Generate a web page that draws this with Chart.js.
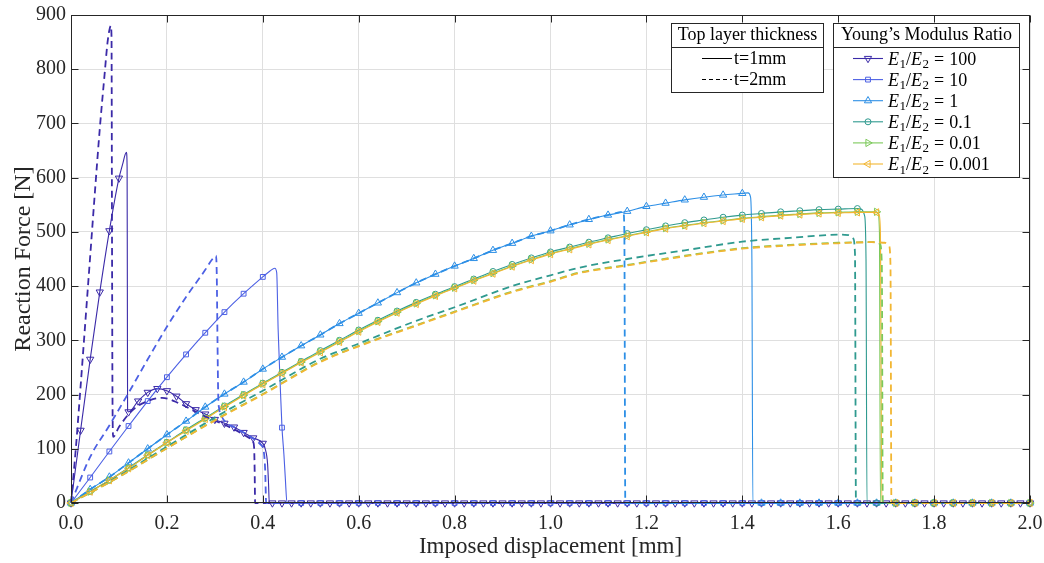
<!DOCTYPE html>
<html><head><meta charset="utf-8">
<script src="https://cdn.jsdelivr.net/npm/chart.js@4.4.1/dist/chart.umd.min.js"></script>
<style>html,body{margin:0;padding:0;background:#fff;}canvas{display:block;}</style>
</head><body>
<canvas id="c" width="1044" height="563"></canvas>
<script>
// ---------- tick labels / categories ----------
const xTickValues = [0,0.2,0.4,0.6,0.8,1.0,1.2,1.4,1.6,1.8,2.0];
const yTickValues = [0,100,200,300,400,500,600,700,800,900];
const ratioLabels = ['100','10','1','0.1','0.01','0.001'];
const thicknessLabels = ['t=1mm','t=2mm'];

// ---------- E1/E2 = 100 ----------
const e100t1X = [0,0.02,0.04,0.06,0.08,0.10,0.108,0.113,0.1155,0.117,0.1175,0.118,0.12,0.14,0.16,0.18,0.20,0.22,0.24,0.26,0.28,0.30,0.32,0.34,0.36,0.38,0.40,0.405,0.41,0.412,0.4135,
 0.42,0.44,0.46,0.48,0.50,0.52,0.54,0.56,0.58,0.60,0.62,0.64,0.66,0.68,0.70,0.72,0.74,0.76,0.78,0.80,0.82,0.84,0.86,0.88,0.90,0.92,0.94,0.96,0.98,1.00,
 1.02,1.04,1.06,1.08,1.10,1.12,1.14,1.16,1.18,1.20,1.22,1.24,1.26,1.28,1.30,1.32,1.34,1.36,1.38,1.40,1.42,1.44,1.46,1.48,1.50,1.52,1.54,1.56,1.58,1.60,
 1.62,1.64,1.66,1.68,1.70,1.72,1.74,1.76,1.78,1.80,1.82,1.84,1.86,1.88,1.90,1.92,1.94,1.96,1.98,2.00];
const e100t1Y = [0,134,265,389,502,599,626,643,647,620,400,170,168,188,204,211,207,197,183,172,164,154,147,140,130,120,110,100,72,35,0,
 0,0,0,0,0,0,0,0,0,0,0,0,0,0,0,0,0,0,0,0,0,0,0,0,0,0,0,0,0,0,
 0,0,0,0,0,0,0,0,0,0,0,0,0,0,0,0,0,0,0,0,0,0,0,0,0,0,0,0,0,0,
 0,0,0,0,0,0,0,0,0,0,0,0,0,0,0,0,0,0,0,0];
const e100t2X = [0,0.01,0.02,0.03,0.04,0.05,0.06,0.07,0.076,0.08,0.083,0.0845,0.0855,0.0865,0.088,0.10,0.128,0.16,0.19,0.225,0.267,0.30,0.34,0.37,0.38,0.382,0.383,0.384,2.0];
const e100t2Y = [0,100,215,335,455,575,690,790,848,872,880,860,500,200,122,140,171,188,194,184,165,152,136,121,112,100,60,0,0];

// ---------- E1/E2 = 10 ----------
const e10t1X = [0,0.04,0.08,0.12,0.16,0.20,0.24,0.28,0.32,0.36,0.40,0.415,0.425,0.429,0.432,0.436,0.44,0.444,0.447,0.4505,
 0.48,0.52,0.56,0.60,0.64,0.68,0.72,0.76,0.80,0.84,0.88,0.92,0.96,1.00,1.04,1.08,1.12,1.16,1.20,1.24,1.28,1.32,1.36,1.40,1.44,1.48,1.52,1.56,1.60,1.64,1.68,1.72,1.76,1.80,1.84,1.88,1.92,1.96,2.00];
const e10t1Y = [0,47,95,142,188,232,274,314,352,386,417,428,433,425,320,225,139,90,45,0,
 0,0,0,0,0,0,0,0,0,0,0,0,0,0,0,0,0,0,0,0,0,0,0,0,0,0,0,0,0,0,0,0,0,0,0,0,0,0,0];
const e10t2X = [0,0.04,0.08,0.12,0.16,0.20,0.24,0.28,0.295,0.3025,0.304,0.3055,0.307,0.309,0.314,0.324,0.34,0.36,0.38,0.395,0.402,0.405,0.407,2.0];
const e10t2Y = [0,85,143,203,265,325,380,430,450,456,420,300,200,174,160,148,140,130,119,108,95,60,0,0];

// ---------- E1/E2 = 1 ----------
const e1t1X = [0,0.04,0.08,0.12,0.16,0.20,0.24,0.28,0.32,0.36,0.40,0.44,0.48,0.52,0.56,0.60,0.64,0.68,0.72,0.76,0.80,0.84,0.88,0.92,0.96,1.00,1.04,1.08,1.12,1.16,1.20,1.24,1.28,1.32,1.36,1.40,1.412,1.417,1.42,1.422,
 1.44,1.48,1.52,1.56,1.60,1.64,1.68,1.72,1.76,1.80,1.84,1.88,1.92,1.96,2.00];
const e1t1Y = [0,25,48,74,100,126,151,177,201,223,247,269,290,310,331,350,369,388,406,422,437,451,466,479,492,502,513,523,531,538,547,553,559,564,568,571,572,565,450,0,
 0,0,0,0,0,0,0,0,0,0,0,0,0,0,0];
const e1t2X = [0,0.04,0.08,0.12,0.16,0.20,0.24,0.28,0.32,0.36,0.40,0.44,0.48,0.52,0.56,0.60,0.64,0.68,0.72,0.76,0.80,0.84,0.88,0.92,0.96,1.00,1.04,1.08,1.12,1.152,1.154,1.156,2.0];
const e1t2Y = [0,25,48,74,100,126,151,177,201,223,247,269,290,310,331,350,369,388,406,422,437,451,466,479,492,502,513,523,531,537,500,0,0];

// ---------- E1/E2 = 0.1 ----------
const e01t1X = [0,0.04,0.08,0.12,0.16,0.20,0.24,0.28,0.32,0.36,0.40,0.44,0.48,0.52,0.56,0.60,0.64,0.68,0.72,0.76,0.80,0.84,0.88,0.92,0.96,1.00,1.04,1.08,1.12,1.16,1.20,1.24,1.28,1.32,1.36,1.40,1.44,1.48,1.52,1.56,1.60,1.64,1.648,1.655,1.658,1.66,
 1.68,1.72,1.76,1.80,1.84,1.88,1.92,1.96,2.00];
const e01t1Y = [0,21,42,65,89,112,135,157,179,200,221,241,261,281,300,319,337,354,370,385,399,413,427,440,452,463,472,481,489,497,504,511,517,522,527,531,534,537,539,541,542,543,542,530,450,0,
 0,0,0,0,0,0,0,0,0];
const e01t2X = [0,0.1,0.2,0.32,0.4,0.52,0.6,0.72,0.8,0.92,1.0,1.06,1.16,1.28,1.4,1.5,1.608,1.622,1.631,1.635,1.637,2.0];
const e01t2Y = [0,50,104,168,207,266,294,336,361,400,420,434,450,466,482,489,495,494,488,460,0,0];

// ---------- E1/E2 = 0.01 ----------
const e001t1X = [0,0.04,0.08,0.12,0.16,0.20,0.24,0.28,0.32,0.36,0.40,0.44,0.48,0.52,0.56,0.60,0.64,0.68,0.72,0.76,0.80,0.84,0.88,0.92,0.96,1.00,1.04,1.08,1.12,1.16,1.20,1.24,1.28,1.32,1.36,1.40,1.44,1.48,1.52,1.56,1.60,1.64,1.68,1.683,1.686,1.688,
 1.72,1.76,1.80,1.84,1.88,1.92,1.96,2.00];
const e001t1Y = [0,21,42,64,88,111,134,156,178,199,220,240,260,279,298,317,335,352,368,383,397,411,424,437,449,460,469,478,486,493,500,507,512,517,521,525,528,531,533,535,536,537,537,534,500,0,
 0,0,0,0,0,0,0,0];
const e001t2X = [0,0.1,0.2,0.32,0.4,0.52,0.6,0.72,0.8,0.92,1.0,1.06,1.16,1.28,1.4,1.5,1.6,1.68,1.687,1.691,1.693,2.0];
const e001t2Y = [0,48,101,163,201,261,290,328,353,390,409,425,439,456,470,476,480,481,478,440,0,0];

// ---------- E1/E2 = 0.001 ----------
const e0001t1X = [0,0.04,0.08,0.12,0.16,0.20,0.24,0.28,0.32,0.36,0.40,0.44,0.48,0.52,0.56,0.60,0.64,0.68,0.72,0.76,0.80,0.84,0.88,0.92,0.96,1.00,1.04,1.08,1.12,1.16,1.20,1.24,1.28,1.32,1.36,1.40,1.44,1.48,1.52,1.56,1.60,1.64,1.68,1.685,1.688,1.691,
 1.72,1.76,1.80,1.84,1.88,1.92,1.96,2.00];
const e0001t1Y = [0,21,42,64,88,111,133,155,177,198,219,239,259,278,297,316,334,351,367,382,396,410,423,436,448,459,468,477,485,492,499,506,511,516,520,524,527,530,532,534,535,536,536,533,500,0,
 0,0,0,0,0,0,0,0];
const e0001t2X = [0,0.1,0.2,0.32,0.4,0.52,0.6,0.72,0.8,0.92,1.0,1.06,1.16,1.28,1.4,1.5,1.6,1.67,1.697,1.706,1.709,1.711,2.0];
const e0001t2Y = [0,48,101,162,200,260,289,327,352,389,408,424,438,455,469,475,479,481,480,474,440,0,0];

// ---------- styles ----------
const colors = ['#3b2aa8','#4c60e4','#2d8fe6','#2f9a8f','#7cc95a','#f2b632'];
const markerStyles = [
  {style:'triangle', rot:180, r:4.2, step:0.02},
  {style:'rect', rot:0, r:3.4, step:0.04},
  {style:'triangle', rot:0, r:4.2, step:0.04},
  {style:'circle', rot:0, r:3.0, step:0.04},
  {style:'triangle', rot:90, r:4.2, step:0.04},
  {style:'triangle', rot:-90, r:4.2, step:0.04}
];
const series = [
  [e100t1X,e100t1Y,e100t2X,e100t2Y],
  [e10t1X,e10t1Y,e10t2X,e10t2Y],
  [e1t1X,e1t1Y,e1t2X,e1t2Y],
  [e01t1X,e01t1Y,e01t2X,e01t2Y],
  [e001t1X,e001t1Y,e001t2X,e001t2Y],
  [e0001t1X,e0001t1Y,e0001t2X,e0001t2Y]
];
function isMarker(x, step){ const k = x/step; return Math.abs(k-Math.round(k)) < 1e-6; }
function pts(X,Y){ return X.map((x,i)=>({x:x, y:Y[i]})); }

const datasets = [];
series.forEach((s,i)=>{
  const m = markerStyles[i];
  datasets.push({
    label: 'E1/E2 = '+ratioLabels[i]+' '+thicknessLabels[0],
    data: pts(s[0],s[1]),
    borderColor: colors[i], borderWidth: 1.1,
    pointStyle: m.style, rotation: m.rot,
    pointRadius: (ctx)=> (ctx.raw && isMarker(ctx.raw.x, m.step)) ? m.r : 0,
    pointBorderColor: colors[i], pointBackgroundColor: 'rgba(0,0,0,0)', pointBorderWidth: 1,
    pointHoverRadius: 0, pointHitRadius: 0,
    cubicInterpolationMode: 'monotone', clip: false, order: 11 - i
  });
  datasets.push({
    label: 'E1/E2 = '+ratioLabels[i]+' '+thicknessLabels[1],
    data: pts(s[2],s[3]),
    borderColor: colors[i], borderWidth: 1.8, borderDash: [7,4.5],
    pointRadius: 0, pointHoverRadius: 0, pointHitRadius: 0,
    cubicInterpolationMode: 'monotone', clip: false, order: 5 - i
  });
});

const AX = '#262626';
const FONT = '"Liberation Serif", "Times New Roman", serif';

function drawMarker(ctx, style, rotDeg, x, y, r){
  ctx.beginPath();
  if (style === 'circle') ctx.arc(x, y, r, 0, Math.PI*2);
  else if (style === 'rect'){ const s = r*Math.SQRT1_2; ctx.rect(x-s, y-s, 2*s, 2*s); }
  else { let a = rotDeg*Math.PI/180; for (let i=0;i<3;i++){ const px = x+Math.sin(a)*r, py = y-Math.cos(a)*r; if(i) ctx.lineTo(px,py); else ctx.moveTo(px,py); a += 2*Math.PI/3; } ctx.closePath(); }
  ctx.stroke();
}

const framePlugin = {
  id: 'frame',
  afterDatasetsDraw(chart){
    const {ctx, chartArea:a, scales:{x, y}} = chart;
    ctx.save();
    ctx.strokeStyle = AX; ctx.lineWidth = 1;
    const L = Math.round(a.left)+0.5, R = Math.round(a.right)-0.5, T = Math.round(a.top)+0.5, B = Math.round(a.bottom)-0.5;
    ctx.beginPath();
    xTickValues.forEach(v=>{ const p = Math.round(x.getPixelForValue(v))+0.5; ctx.moveTo(p,B); ctx.lineTo(p,B-7); ctx.moveTo(p,T); ctx.lineTo(p,T+7); });
    yTickValues.forEach(v=>{ const p = Math.round(y.getPixelForValue(v))+0.5; ctx.moveTo(L,p); ctx.lineTo(L+7,p); ctx.moveTo(R,p); ctx.lineTo(R-7,p); });
    ctx.stroke();
    ctx.strokeRect(L, T, R-L, B-T);
    ctx.restore();
  },
  afterDraw(chart){
    const ctx = chart.ctx;
    ctx.save();
    ctx.lineWidth = 1; ctx.strokeStyle = AX; ctx.fillStyle = '#fff';
    // legend 1
    let l=671.5, t=23.5, r=823.5, b=92.5, sep=47.5;
    ctx.fillRect(l,t,r-l,b-t); ctx.strokeRect(l,t,r-l,b-t);
    ctx.beginPath(); ctx.moveTo(l,sep); ctx.lineTo(r,sep); ctx.stroke();
    ctx.fillStyle = '#000'; ctx.font = '18px '+FONT; ctx.textBaseline = 'middle'; ctx.textAlign = 'center';
    ctx.fillText('Top layer thickness', (l+r)/2, 35.5);
    ctx.textAlign = 'left';
    [58.5, 79.5].forEach((yy,i)=>{
      ctx.beginPath(); ctx.setLineDash(i ? [4,3] : []); ctx.strokeStyle = '#000';
      ctx.moveTo(702, yy); ctx.lineTo(732, yy); ctx.stroke(); ctx.setLineDash([]);
      ctx.fillText(thicknessLabels[i], 734, yy+1);
    });
    // legend 2
    l=833.5; t=23.5; r=1019.5; b=177.5;
    ctx.fillStyle = '#fff'; ctx.strokeStyle = AX;
    ctx.fillRect(l,t,r-l,b-t); ctx.strokeRect(l,t,r-l,b-t);
    ctx.beginPath(); ctx.moveTo(l,sep); ctx.lineTo(r,sep); ctx.stroke();
    ctx.fillStyle = '#000'; ctx.textAlign = 'center';
    ctx.fillText('Young\u2019s Modulus Ratio', (l+r)/2, 35.5);
    ctx.textAlign = 'left'; ctx.textBaseline = 'alphabetic';
    ratioLabels.forEach((lab,i)=>{
      const yy = 58.5 + 21.1*i;
      const m = markerStyles[i];
      ctx.strokeStyle = colors[i]; ctx.lineWidth = 1.1;
      ctx.beginPath(); ctx.moveTo(853, yy); ctx.lineTo(883, yy); ctx.stroke();
      ctx.lineWidth = 1; drawMarker(ctx, m.style, m.rot, 868, yy, m.r);
      ctx.fillStyle = '#000';
      let xx = 888; const base = yy + 6;
      const put = (txt, font, dy) => { ctx.font = font; ctx.fillText(txt, xx, base+dy); xx += ctx.measureText(txt).width; };
      put('E', 'italic 18px '+FONT, 0); xx += 0.5;
      put('1', '13px '+FONT, 3.5);
      put('/', '18px '+FONT, 0);
      put('E', 'italic 18px '+FONT, 0); xx += 0.5;
      put('2', '13px '+FONT, 3.5);
      xx += 5; put('=', '18px '+FONT, 0); xx += 5;
      put(lab, '18px '+FONT, 0);
    });
    ctx.restore();
  }
};

new Chart(document.getElementById('c'), {
  type: 'line',
  data: { datasets },
  options: {
    responsive: false, animation: false, devicePixelRatio: 1,
    events: [],
    layout: { padding: { top: 15, right: 14, left: 0, bottom: 0 } },
    plugins: { legend: { display: false }, tooltip: { enabled: false } },
    scales: {
      x: {
        type: 'linear', min: 0, max: 2,
        afterFit: (s)=>{ s.height = 60; s.paddingLeft = 0; s.paddingRight = 0; },
        afterBuildTicks: (s)=>{ s.ticks = xTickValues.map(v=>({value:v})); },
        ticks: { callback: (v)=> Number(v).toFixed(1), font: { family: FONT, size: 20 }, color: AX, padding: 9, autoSkip: false, maxRotation: 0 },
        grid: { color: '#dfdfdf', lineWidth: 1, drawTicks: false },
        border: { display: false },
        title: { display: true, text: 'Imposed displacement [mm]', font: { family: FONT, size: 23 }, color: AX, padding: { top: 0, bottom: 2 } }
      },
      y: {
        type: 'linear', min: 0, max: 900,
        afterFit: (s)=>{ s.width = 71; s.paddingTop = 0; s.paddingBottom = 0; },
        afterBuildTicks: (s)=>{ s.ticks = yTickValues.map(v=>({value:v})); },
        ticks: { callback: (v)=> String(v), font: { family: FONT, size: 20 }, color: AX, padding: 5 },
        grid: { color: '#dfdfdf', lineWidth: 1, drawTicks: false },
        border: { display: false },
        title: { display: true, text: 'Reaction Force [N]', font: { family: FONT, size: 24 }, color: AX, padding: { top: 9, bottom: 0 } }
      }
    }
  },
  plugins: [framePlugin]
});
</script>
</body></html>
